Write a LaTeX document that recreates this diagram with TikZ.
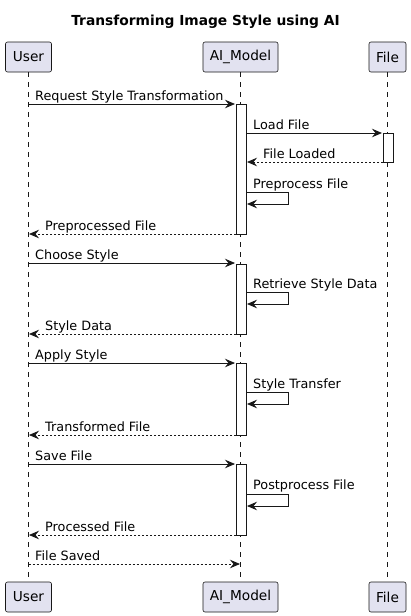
\documentclass[tikz,border=0pt]{standalone}
\usepackage{fontspec}
\setmainfont{DejaVu Sans}
\usetikzlibrary{arrows.meta}
\definecolor{partfill}{HTML}{E2E2F0}
\definecolor{ink}{HTML}{181818}
\tikzset{
  part/.style={draw=ink, fill=partfill, rounded corners=2pt, line width=0.6pt, minimum height=30pt, inner xsep=5pt, font=\fontsize{13.7}{15}\selectfont, text=black},
  life/.style={draw=ink, line width=0.5pt, dash pattern=on 5pt off 5pt},
  actbox/.style={draw=ink, fill=white, line width=0.6pt},
  msg/.style={draw=ink, line width=0.8pt, -{Stealth[length=10pt,width=8.5pt,inset=3.5pt]}},
  ret/.style={msg, dash pattern=on 2pt off 2pt},
  lbl/.style={anchor=base west, inner sep=0pt, font=\fontsize{12.8}{14}\selectfont, text=black},
}
\begin{document}
\begin{tikzpicture}[x=1pt,y=-1pt]
\useasboundingbox (0,0) rectangle (411,616);
\fill[white] (0,0) rectangle (411,616);
\node[font=\bfseries\fontsize{13.8}{15}\selectfont] (title) at (205.5,22) {Transforming Image Style using AI};
% participants
\node[part, minimum width=46pt] (uT) at (28.5,57) {User};
\node[part, minimum width=75pt] (aT) at (240.5,57) {AI\_Model};
\node[part, minimum width=37pt] (fT) at (387.5,57) {File};
\node[part, minimum width=46pt] (uB) at (28.5,597) {User};
\node[part, minimum width=75pt] (aB) at (240.5,597) {AI\_Model};
\node[part, minimum width=37pt] (fB) at (387.5,597) {File};
\draw[life] (uT.south) -- (uB.north);
\draw[life] (aT.south) -- (aB.north);
\draw[life] (fT.south) -- (fB.north);
% activation boxes
\draw[actbox] (236,104) rectangle (246,234);
\draw[actbox] (383,133) rectangle (393.5,162);
\draw[actbox] (236,264) rectangle (246,334);
\draw[actbox] (236,363) rectangle (246,435);
\draw[actbox] (236,464) rectangle (246,535);
% coordinates
\coordinate (u1) at (28.5,104); \coordinate (a1) at (235,104);
\coordinate (a2) at (246,133); \coordinate (f2) at (382,133);
\coordinate (f3) at (383,162); \coordinate (a3) at (247,162);
\coordinate (a4s) at (246,192); \coordinate (a4e) at (247,204);
\coordinate (a5) at (236,234); \coordinate (u5) at (29,234);
\coordinate (u6) at (28.5,263); \coordinate (a6) at (235,263);
\coordinate (a7s) at (246,292); \coordinate (a7e) at (247,304);
\coordinate (a8) at (236,334); \coordinate (u8) at (29,334);
\coordinate (u9) at (28.5,363); \coordinate (a9) at (235,363);
\coordinate (a10s) at (246,392); \coordinate (a10e) at (247,404);
\coordinate (a11) at (236,435); \coordinate (u11) at (29,435);
\coordinate (u12) at (28.5,464); \coordinate (a12) at (235,464);
\coordinate (a13s) at (246,494); \coordinate (a13e) at (247,506);
\coordinate (a14) at (236,535); \coordinate (u14) at (29,535);
\coordinate (u15) at (28.5,564); \coordinate (a15) at (240,564);
% messages
\draw[msg] (u1) -- (a1);
\node[lbl] (l1) at (35,100) {Request Style Transformation};
\draw[msg] (a2) -- (f2);
\node[lbl] (l2) at (253,129) {Load File};
\draw[ret] (f3) -- (a3);
\node[lbl] (l3) at (263,158) {File Loaded};
\draw[msg] (a4s) -- (288,192) -- (288,204) -- (a4e);
\node[lbl] (l4) at (253,188) {Preprocess File};
\draw[ret] (a5) -- (u5);
\node[lbl] (l5) at (45,230) {Preprocessed File};
\draw[msg] (u6) -- (a6);
\node[lbl] (l6) at (35,259) {Choose Style};
\draw[msg] (a7s) -- (288,292) -- (288,304) -- (a7e);
\node[lbl] (l7) at (253,288) {Retrieve Style Data};
\draw[ret] (a8) -- (u8);
\node[lbl] (l8) at (45,330) {Style Data};
\draw[msg] (u9) -- (a9);
\node[lbl] (l9) at (35,359) {Apply Style};
\draw[msg] (a10s) -- (288,392) -- (288,404) -- (a10e);
\node[lbl] (l10) at (253,388) {Style Transfer};
\draw[ret] (a11) -- (u11);
\node[lbl] (l11) at (45,431) {Transformed File};
\draw[msg] (u12) -- (a12);
\node[lbl] (l12) at (35,460) {Save File};
\draw[msg] (a13s) -- (288,494) -- (288,506) -- (a13e);
\node[lbl] (l13) at (253,489) {Postprocess File};
\draw[ret] (a14) -- (u14);
\node[lbl] (l14) at (45,531) {Processed File};
\draw[ret] (u15) -- (a15);
\node[lbl] (l15) at (35,560) {File Saved};
\end{tikzpicture}
\end{document}
